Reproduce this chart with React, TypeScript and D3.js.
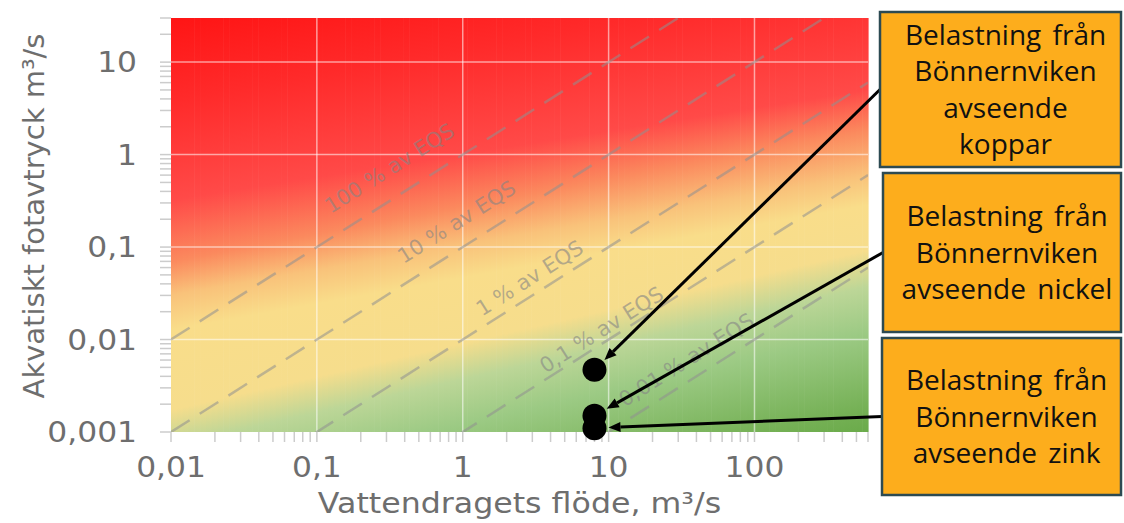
import * as d3 from "d3";

// axis ticks
const xTickValues = [0.01, 0.1, 1, 10, 100];
const xTickLabels = ["0,01", "0,1", "1", "10", "100"];
const yTickValues = [0.001, 0.01, 0.1, 1, 10];
const yTickLabels = ["0,001", "0,01", "0,1", "1", "10"];

// EQS reference lines (footprint = share * flow)
const eqsShares = [1, 0.1, 0.01, 0.001, 0.0001];
const eqsLabels = ["100 % av EQS", "10 % av EQS", "1 % av EQS", "0,1 % av EQS", "0,01 % av EQS"];
const eqsLabelFlow = [0.316, 0.91, 2.88, 8.95, 34.2];
const eqsLabelFootprint = [0.71, 0.186, 0.046, 0.0127, 0.006];

// loads from Bönnernviken
const metals = ["koppar", "nickel", "zink"];
const loadFlow = [8, 8, 8];
const loadFootprint = [0.0047, 0.0015, 0.0011];
const calloutLines = [
  ["Belastning från", "Bönnernviken", "avseende", "koppar"],
  ["Belastning från", "Bönnernviken", "avseende nickel"],
  ["Belastning från", "Bönnernviken", "avseende zink"],
];

const width = 1124,
  height = 523;
const plot = { left: 171, right: 868, top: 18, bottom: 432 };
const boxes = [
  { x: 880, y: 12, w: 241, h: 155 },
  { x: 883, y: 173, w: 238, h: 159 },
  { x: 882, y: 338, w: 239, h: 157 },
];

// background colour bands: y position of each colour at left and right edge
const bgBands = [
  { color: "#ff0000", left: -60, right: -200 },
  { color: "#ff2a2a", left: 100, right: -20 },
  { color: "#ff4a48", left: 200, right: 90 },
  { color: "#fb8a5e", left: 262, right: 130 },
  { color: "#f9c27a", left: 295, right: 175 },
  { color: "#f9dd8a", left: 330, right: 205 },
  { color: "#f6dd8c", left: 410, right: 250 },
  { color: "#bcd697", left: 446, right: 287 },
  { color: "#9cca84", left: 490, right: 332 },
  { color: "#74b054", left: 570, right: 410 },
  { color: "#62a642", left: 630, right: 450 },
];

const axisFont = "DejaVu Sans, Verdana, sans-serif";
const axisColor = "#6e6e6e";

function SText(props) {
  const { x, y, sx = 1.08, children, ...rest } = props;
  return (
    <g transform={`translate(${x},${y}) scale(${sx},1)`}>
      <text {...rest}>{children}</text>
    </g>
  );
}

export default function App() {
  const xScale = d3.scaleLog().domain([0.01, 600]).range([plot.left, plot.right]);
  const yScale = d3.scaleLog().domain([0.001, 30]).range([plot.bottom, plot.top]);
  const pw = plot.right - plot.left;

  const xMinor = xScale.ticks();
  const yMinor = yScale.ticks();

  const angle =
    (-Math.atan2(yScale(0.1) - yScale(1), xScale(1) - xScale(0.1)) * 180) / Math.PI;

  const stripCount = 120;
  const lo = -250,
    hi = 700;
  const strips = d3.range(stripCount).map((i) => {
    const f = (i + 0.5) / stripCount;
    return {
      x: plot.left + (i * pw) / stripCount,
      stops: bgBands.map((b) => ({
        color: b.color,
        offset: (b.left + f * (b.right - b.left) - lo) / (hi - lo),
      })),
    };
  });

  const eqsLine = d3
    .line()
    .x((d) => xScale(d[0]))
    .y((d) => yScale(d[1]));

  const r = 12;

  return (
    <svg
      width={width}
      height={height}
      style={{ position: "absolute", left: 0, top: 0, background: "#fff" }}
    >
      <defs>
        {strips.map((s, i) => (
          <linearGradient
            key={i}
            id={`bg${i}`}
            gradientUnits="userSpaceOnUse"
            x1={0}
            x2={0}
            y1={lo}
            y2={hi}
          >
            {s.stops.map((st, j) => (
              <stop key={j} offset={st.offset} stopColor={st.color} />
            ))}
          </linearGradient>
        ))}
        <clipPath id="plotClip">
          <rect x={plot.left} y={plot.top} width={pw} height={plot.bottom - plot.top} />
        </clipPath>
      </defs>

      {/* background */}
      {strips.map((s, i) => (
        <rect
          key={i}
          x={s.x}
          y={plot.top}
          width={pw / stripCount + 0.6}
          height={plot.bottom - plot.top}
          fill={`url(#bg${i})`}
        />
      ))}

      {/* grid */}
      <g stroke="#ffffff" strokeOpacity={0.55} strokeWidth={1.5}>
        {xTickValues.slice(1).map((v) => (
          <line key={v} x1={xScale(v)} x2={xScale(v)} y1={plot.top} y2={plot.bottom} />
        ))}
        {yTickValues.slice(1).map((v) => (
          <line key={v} x1={plot.left} x2={plot.right} y1={yScale(v)} y2={yScale(v)} />
        ))}
      </g>

      {/* EQS lines */}
      <g clipPath="url(#plotClip)">
        {eqsShares.map((c) => (
          <path
            key={c}
            d={eqsLine([
              [0.01, 0.01 * c],
              [600, 600 * c],
            ])}
            fill="none"
            stroke="#8f8f8f"
            strokeOpacity={0.55}
            strokeWidth={2.5}
            strokeDasharray="22 12"
          />
        ))}
        {eqsLabels.map((t, i) => (
          <text
            key={t}
            transform={`translate(${xScale(eqsLabelFlow[i])},${yScale(
              eqsLabelFootprint[i]
            )}) rotate(${angle})`}
            textAnchor="middle"
            dominantBaseline="central"
            fontFamily={axisFont}
            fontSize={21}
            fill="#858585"
            fillOpacity={0.6}
          >
            {t}
          </text>
        ))}
      </g>

      {/* axis ticks */}
      <g stroke="#cccccc" strokeWidth={1.5}>
        {yMinor.map((v, i) => (
          <line key={i} x1={plot.left - 11} x2={plot.left} y1={yScale(v)} y2={yScale(v)} />
        ))}
        {xMinor.map((v, i) => (
          <line key={i} x1={xScale(v)} x2={xScale(v)} y1={plot.bottom} y2={plot.bottom + 10} />
        ))}
      </g>

      {/* tick labels */}
      <g fontFamily={axisFont} fill={axisColor}>
        {yTickValues.map((v, i) => (
          <SText
            key={v}
            x={137}
            y={yScale(v)}
            fontSize={29}
            textAnchor="end"
            dominantBaseline="central"
          >
            {yTickLabels[i]}
          </SText>
        ))}
        {xTickValues.map((v, i) => (
          <SText key={v} x={xScale(v)} y={477} fontSize={29} textAnchor="middle">
            {xTickLabels[i]}
          </SText>
        ))}
        <SText
          x={(plot.left + plot.right) / 2}
          y={513}
          sx={1.13}
          fontSize={28}
          textAnchor="middle"
        >
          Vattendragets flöde, m³/s
        </SText>
        <text
          transform={`translate(44,216) rotate(-90)`}
          textAnchor="middle"
          fontSize={29}
        >
          Akvatiskt fotavtryck m³/s
        </text>
      </g>

      {/* points */}
      {metals.map((m, i) => (
        <circle key={m} cx={xScale(loadFlow[i])} cy={yScale(loadFootprint[i])} r={r} fill="#000" />
      ))}

      {/* arrows */}
      {metals.map((m, i) => {
        const b = boxes[i];
        const bx = b.x,
          by = b.y + b.h / 2;
        const cx = xScale(loadFlow[i]),
          cy = yScale(loadFootprint[i]);
        const len = Math.hypot(bx - cx, by - cy);
        const ux = (bx - cx) / len,
          uy = (by - cy) / len;
        const tx = cx + ux * (r + 2),
          ty = cy + uy * (r + 2);
        const ah = 12,
          aw = 5;
        const baseX = tx + ux * ah,
          baseY = ty + uy * ah;
        return (
          <g key={m}>
            <line x1={bx} y1={by} x2={baseX} y2={baseY} stroke="#000" strokeWidth={3} />
            <polygon
              points={`${tx},${ty} ${baseX - uy * aw},${baseY + ux * aw} ${baseX + uy * aw},${
                baseY - ux * aw
              }`}
              fill="#000"
            />
          </g>
        );
      })}

      {/* callout boxes */}
      {boxes.map((b, i) => {
        const lines = calloutLines[i];
        const cy = b.y + b.h / 2 + 10;
        return (
          <g key={i}>
            <rect
              x={b.x}
              y={b.y}
              width={b.w}
              height={b.h}
              fill="#fdad1c"
              stroke="#2c4a52"
              strokeWidth={2.5}
            />
            {lines.map((t, j) => (
              <text
                key={j}
                x={b.x + b.w / 2 + 5}
                y={cy + (j - (lines.length - 1) / 2) * 36.5}
                textAnchor="middle"
                fontFamily="Open Sans, sans-serif"
                fontSize={28}
                fill="#111"
                wordSpacing={4}
              >
                {t}
              </text>
            ))}
          </g>
        );
      })}
    </svg>
  );
}
